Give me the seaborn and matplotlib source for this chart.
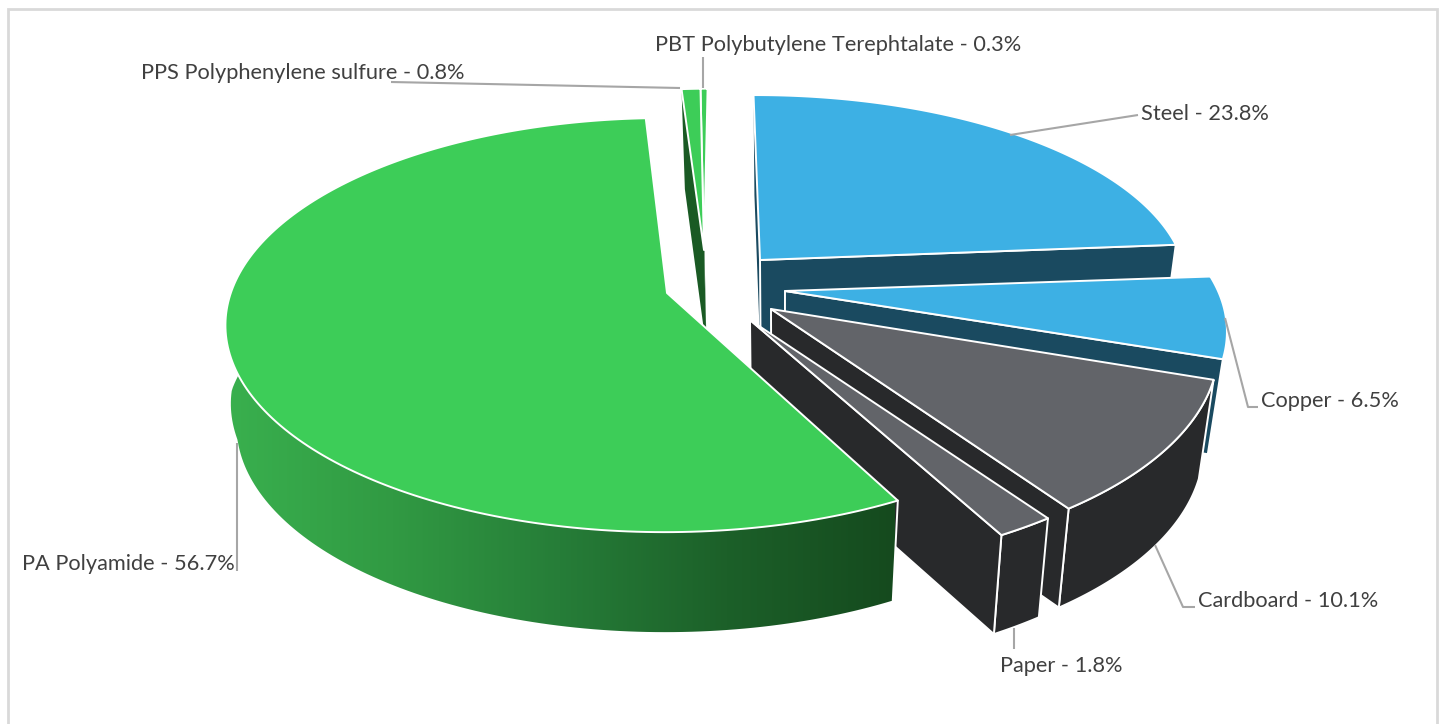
import numpy as np
import matplotlib
matplotlib.use("Agg")
import matplotlib.pyplot as plt
from matplotlib.patches import Polygon, Rectangle
import seaborn as sns

# ---- data ----
categories = ["Steel", "Copper", "Cardboard", "Paper", "PA Polyamide",
              "PPS Polyphenylene sulfure", "PBT Polybutylene Terephtalate"]
shares = [23.8, 6.5, 10.1, 1.8, 56.7, 0.8, 0.3]

# ---- style ----
sns.set_theme(style="white")
plt.rcParams["font.family"] = ["Lato", "DejaVu Sans"]

BLUE, BLUE_D = "#3db0e4", "#1a4a60"
GREY, BLACK = "#626469", "#28292b"
GREEN, GREEN_D = "#3dcd58", "#1a5a24"
TEXT, LEAD = "#404040", "#a6a6a6"
wall_ramp = sns.blend_palette(["#39b04e", "#319a43", "#267d38", "#1c6029", "#154a1e"], 256)

# layout of each exploded slice: centre, radii, perspective, shear, tilt, rotation, depth, bottom shrink
base = dict(k=0, t=0, rot=0, d=100, sh=.034, x0=780, fade=None)
layout = {
    "Steel":        {**base, "c": (760, 260), "R": 423, "sR": 188, "p": .14, "t": 2, "top": BLUE, "side": BLUE_D},
    "Copper":       {**base, "c": (785, 291), "R": 433, "sR": 195, "p": .20, "rot": 1, "d": 95, "top": BLUE, "side": BLUE_D},
    "Cardboard":    {**base, "c": (771, 309), "R": 441, "sR": 210, "p": .17, "t": 2, "d": 99, "top": GREY, "side": BLACK},
    "Paper":        {**base, "c": (750, 320), "R": 454, "sR": 216, "p": .14, "d": 99, "top": GREY, "side": BLACK},
    "PA Polyamide": {**base, "c": (667, 293), "R": 434, "sR": 202, "p": .155, "k": .03, "t": 6, "sh": .024, "x0": 687,
                     "fade": (290, 340), "top": GREEN, "side": None},
    "PPS Polyphenylene sulfure":     {**base, "c": (704, 250), "R": 430, "sR": 184, "p": .14, "k": .027, "top": GREEN, "side": GREEN_D},
    "PBT Polybutylene Terephtalate": {**base, "c": (704, 250), "R": 430, "sR": 184, "p": .14, "k": .027, "top": GREEN, "side": GREEN_D},
}

# label anchor (left x, centre y) and leader-line path, in figure pixels
labels = {
    "Steel":        ((1141, 114), [(1010, 135), (1138, 115)]),
    "Copper":       ((1261, 401), [(1225, 318), (1248, 407), (1258, 407)]),
    "Cardboard":    ((1198, 601), [(1155, 545), (1183, 607), (1195, 607)]),
    "Paper":        ((1000, 666), [(1014, 628), (1014, 649)]),
    "PA Polyamide": ((22, 564),   [(237, 443), (237, 571)]),
    "PPS Polyphenylene sulfure":     ((141, 73), [(391, 82), (680, 88)]),
    "PBT Polybutylene Terephtalate": ((655, 45), [(703, 57), (703, 88)]),
}

fig = plt.figure(figsize=(14.47, 7.24), dpi=100)
ax = fig.add_axes([0, 0, 1, 1])
ax.set_xlim(0, 1447)
ax.set_ylim(724, 0)
ax.axis("off")
ax.add_patch(Rectangle((8, 9), 1429, 730, fc="white", ec="#d9d9d9", lw=2, zorder=0))


def project(theta, L):
    a = theta + np.radians(L["rot"])
    X, Y = np.sin(a), np.cos(a)
    w = 1 + L["p"] * Y
    return np.column_stack([L["c"][0] + L["R"] * (X + L["k"] * Y) / w,
                            L["c"][1] + (L["t"] * X - L["sR"] * Y) / w])


def sink(pts, L):
    pts = np.atleast_2d(pts)
    amount = np.ones(len(pts))
    if L["fade"] is not None:
        y0, y1 = L["fade"]
        amount = np.clip((pts[:, 1] - y0) / (y1 - y0), 0, 1)
    return np.column_stack([pts[:, 0] - amount * L["sh"] * (pts[:, 0] - L["x0"]), pts[:, 1] + L["d"]])


def poly(pts, fc, z, ec="white", lw=1.4):
    p = Polygon(pts, closed=True, fc=fc, ec=ec, lw=lw, joinstyle="round", zorder=z)
    ax.add_patch(p)
    return p


# slice angles, clockwise from the top
edges = np.radians(-1 + np.cumsum([0] + shares) * 3.6)
spans = {c: (edges[i], edges[i + 1]) for i, c in enumerate(categories)}

# back-to-front painting
order = ["PBT Polybutylene Terephtalate", "PPS Polyphenylene sulfure",
         "Steel", "Copper", "Cardboard", "Paper", "PA Polyamide"]
z = 2
for name in order:
    L = layout[name]
    a, b = spans[name]
    th = np.linspace(a, b, 200)
    arc = project(th, L)
    low = sink(arc, L)
    apex = np.array([L["c"]], float)
    apex_low = sink(apex, L)

    if name == "PA Polyamide":
        wall = poly(np.vstack([arc, low[::-1]]), "none", z, ec="none", lw=0)
        img = ax.imshow(np.array(wall_ramp)[None, :, :], extent=(225, 895, 724, 0),
                        aspect="auto", zorder=z, interpolation="bilinear")
        img.set_clip_path(wall)
        ax.set_xlim(0, 1447)
        ax.set_ylim(724, 0)
        ax.plot(*np.vstack([arc[0], low[0]]).T, color="white", lw=1.4, zorder=z + .5)
    elif name.startswith(("PPS", "PBT")):
        poly(np.vstack([arc[:1], low[:1], apex_low, apex]), L["side"], z, ec="none", lw=0)
    elif name == "Steel":
        poly(np.vstack([arc[:1], low[:1], apex_low, apex]), L["side"], z, ec="none", lw=0)
        poly(np.vstack([arc[-1:], low[-1:], apex_low, apex]), L["side"], z + .2)
    else:
        poly(np.vstack([arc, low[::-1]]), L["side"], z + .1)
        poly(np.vstack([arc[-1:], low[-1:], apex_low, apex]), L["side"], z + .2)
    poly(np.vstack([apex, arc]), L["top"], z + .4)
    z += 1

# labels and leaders
for name, value in zip(categories, shares):
    (tx, ty), path = labels[name]
    ax.plot(*np.array(path).T, color=LEAD, lw=1.5, zorder=50, solid_capstyle="butt")
    ax.text(tx, ty, f"{name} - {value}%", color=TEXT, fontsize=15.7, ha="left", va="center", zorder=51)

fig.savefig("out.png", dpi=100, facecolor="white")
